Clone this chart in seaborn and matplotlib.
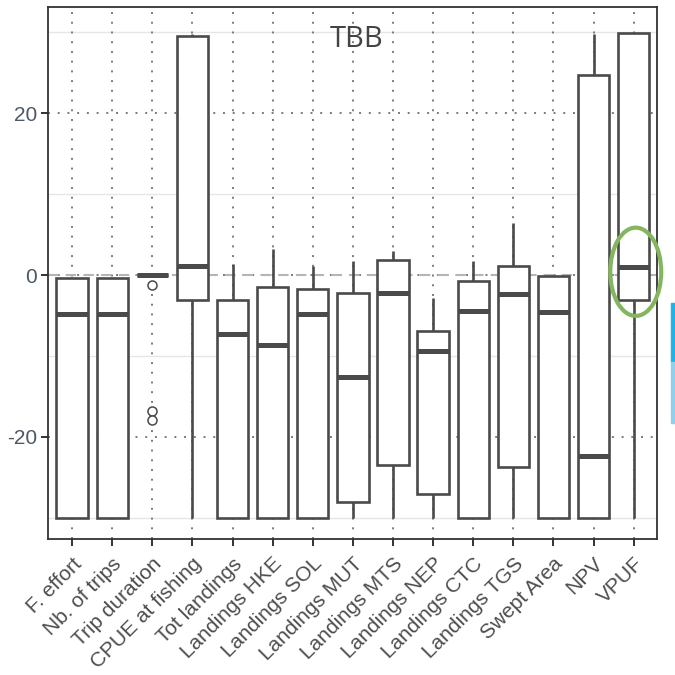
import numpy as np
import pandas as pd
import matplotlib
matplotlib.use("Agg")
import matplotlib.pyplot as plt
from matplotlib.patches import Ellipse, Rectangle
import seaborn as sns

# ---- data ----
categories = ["F. effort", "Nb. of trips", "Trip duration", "CPUE at fishing",
              "Tot landings", "Landings HKE", "Landings SOL", "Landings MUT",
              "Landings MTS", "Landings NEP", "Landings CTC", "Landings TGS",
              "Swept Area", "NPV", "VPUF"]
whisker_low = [-30, -30, 0, -30, -30, -30, -30, -30, -30, -30, -30, -30, -30, -30, -30]
q1 = [-30, -30, 0, -3.1, -30, -30, -30, -28.0, -23.4, -27.0, -30, -23.7, -30, -30, -3.1]
median = [-4.8, -4.8, 0, 1.1, -7.3, -8.7, -4.8, -12.6, -2.2, -9.4, -4.5, -2.3, -4.6, -22.4, 1.0]
q3 = [-0.4, -0.4, 0, 29.5, -3.1, -1.5, -1.7, -2.2, 1.85, -6.9, -0.75, 1.1, -0.1, 24.7, 29.9]
whisker_high = [-0.4, -0.4, 0, 29.8, 1.35, 3.2, 1.1, 1.7, 2.95, -2.8, 1.7, 6.45, -0.1, 29.8, 29.9]
outliers = {"Trip duration": [-1.2, -16.8, -17.9]}
y_ticks = [-20, 0, 20]
y_tick_labels = ["-20", "0", "20"]
title = "TBB"

# long-form table whose quartiles / whiskers reproduce the summaries above
rows = []
for i, cat in enumerate(categories):
    summary = [whisker_low[i], q1[i], median[i], q3[i], whisker_high[i]]
    vals = list(np.repeat(summary, 4)) + outliers.get(cat, [])
    rows += [(cat, v) for v in vals]
df = pd.DataFrame(rows, columns=["variable", "value"])

# ---- figure ----
sns.set_style("white")
plt.rcParams["axes.unicode_minus"] = False
fig = plt.figure(figsize=(6.75, 6.75), dpi=100)
ax = fig.add_axes([48 / 675, 1 - 539 / 675, 609 / 675, 532 / 675])

edge = "#4a4a4a"
sns.boxplot(data=df, x="variable", y="value", order=categories, ax=ax,
            color="white", linecolor=edge, linewidth=1.9, width=0.78,
            showcaps=False, whis=1.5,
            medianprops={"linewidth": 3.6, "color": edge},
            flierprops={"marker": "o", "markerfacecolor": "white",
                        "markeredgecolor": edge, "markersize": 6.5,
                        "markeredgewidth": 1.1},
            zorder=3)

ax.set_xlim(-0.6, 14.58)
ax.set_ylim(-32.6, 33.1)

# minor grid (solid, light)
for yv in [-30, -10, 10, 30]:
    ax.axhline(yv, color="#e6e6e6", lw=1.0, zorder=0.5)
# major grid (dotted)
dot = (0, (1, 4))
for yv in y_ticks:
    ax.axhline(yv, color="#7a7a7a", lw=1.4, ls=dot, zorder=0.6)
for xv in range(len(categories)):
    ax.axvline(xv, color="#7a7a7a", lw=1.4, ls=dot, zorder=0.6)
# dashed reference line at 0
ax.axhline(0, color="#b5b5b5", lw=1.5, ls=(0, (5, 3.5)), zorder=0.7)

ax.set_yticks(y_ticks)
ax.set_yticklabels(y_tick_labels, fontsize=15, color="#4e5866",
                   family="Liberation Sans")
ax.set_xticks(range(len(categories)))
ax.set_xticklabels(categories, rotation=45, ha="right", va="top",
                   rotation_mode="anchor", fontsize=15, color="#4d4d4d",
                   family="Liberation Sans")
ax.tick_params(axis="both", which="major", length=5, width=1.4,
               color="#333333", direction="out", pad=3)
ax.tick_params(axis="x", pad=6)
ax.tick_params(axis="y", left=True)
ax.tick_params(axis="x", bottom=True)
for lbl in ax.get_xticklabels():
    lbl.set_x(lbl.get_position()[0])
ax.set_xlabel("")
ax.set_ylabel("")
for s in ax.spines.values():
    s.set_visible(True)
    s.set_color("#333333")
    s.set_linewidth(1.3)

ax.text(0.506, 0.925, title, transform=ax.transAxes, ha="center",
        va="baseline", fontsize=21, color="#444444", family="Open Sans")

# highlight ellipse around the VPUF median
ax.add_patch(Ellipse((14.05, 0.4), width=1.27, height=10.9, fill=False,
                     edgecolor="#84b65f", lw=3.0, zorder=10, clip_on=False))

# blue marker at right edge of the image
fig.patches.append(Rectangle((671 / 675, 1 - 362 / 675), 4 / 675, 59 / 675,
                             transform=fig.transFigure, color="#1fb4e9"))
fig.patches.append(Rectangle((671 / 675, 1 - 423 / 675), 4 / 675, 61 / 675,
                             transform=fig.transFigure, color="#8fd0ee"))

fig.savefig("out.png", dpi=100)
